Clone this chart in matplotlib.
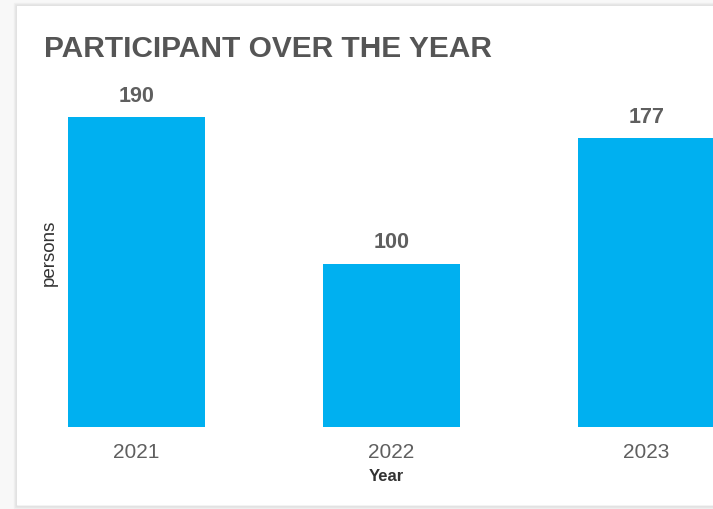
import matplotlib
matplotlib.use('Agg')
import matplotlib.pyplot as plt
from matplotlib.patches import Rectangle

# data
years = ['2021', '2022', '2023']
participants = [190, 100, 177]

BAR_COLOR = '#00B0F0'
TEXT_GRAY = '#5f5f5f'

W, H = 713, 510
fig = plt.figure(figsize=(W / 100, H / 100), dpi=100, facecolor='#f8f8f8')
plt.rcParams['font.family'] = ['Liberation Sans', 'DejaVu Sans']

# card background with a soft border (kept behind the axes)
for i, c in enumerate(['#f0f0f0', '#e8e8e8', '#e2e2e2']):
    fig.patches.append(Rectangle(((16 - 2 + i) / W, (H - 507 - 2 + i) / H),
                                 (W + 10) / W, (501 + 4 - 2 * i) / H,
                                 transform=fig.transFigure, facecolor='none',
                                 edgecolor=c, lw=1, zorder=-2))
fig.patches.append(Rectangle((17 / W, (H - 506) / H), (W + 10) / W, 499 / H,
                             transform=fig.transFigure, facecolor='white',
                             edgecolor='none', zorder=-1))

# axes placed in pixel terms: baseline at y=428, 1.632 px per person
ax = fig.add_axes([60 / W, (H - 428) / H, (W - 60) / W, 326 / H])
ax.set_zorder(1)
ax.set_facecolor('none')
x = range(len(years))
bars = ax.bar(x, participants, width=0.537, color=BAR_COLOR, zorder=2)
ax.set_xlim(-0.3, -0.3 + (W - 60) / 255)
ax.set_ylim(0, 200)

for b, v in zip(bars, participants):
    ax.annotate(f'{v}', (b.get_x() + b.get_width() / 2, v),
                xytext=(0, 12), textcoords='offset points',
                ha='center', va='baseline', fontsize=15.5,
                fontweight='bold', color=TEXT_GRAY, annotation_clip=False)

ax.set_xticks(list(x))
ax.set_xticklabels(years, fontsize=15, color=TEXT_GRAY)
ax.tick_params(axis='x', length=0, pad=11)
ax.set_yticks([])
for s in ax.spines.values():
    s.set_visible(False)

ax.set_xlabel('Year', fontsize=12, color='#333333', labelpad=5,
              fontweight='semibold')
ax.set_ylabel('persons', fontsize=13.5, color='#333333')
ax.yaxis.set_label_coords(-0.016, 0.537)
ax.yaxis.label.set_va('center')

fig.text(44 / W, 1 - 57 / H, 'PARTICIPANT OVER THE YEAR', fontsize=21.5,
         fontweight='bold', color='#555555', va='baseline', ha='left')

fig.savefig('out.png', dpi=100, facecolor=fig.get_facecolor())
